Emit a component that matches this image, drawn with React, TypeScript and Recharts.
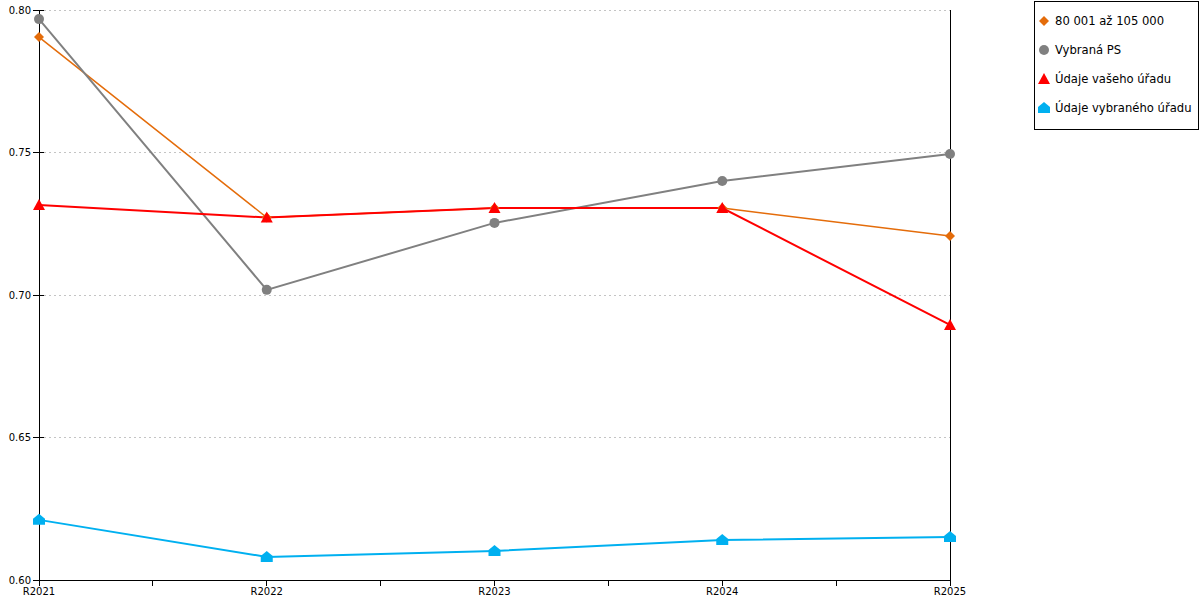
import React from 'react';
import { LineChart, Line, XAxis, YAxis, CartesianGrid } from 'recharts';

const categories = ['R2021', 'R2022', 'R2023', 'R2024', 'R2025'];
const bandValues = [0.7905, 0.7272, 0.7305, 0.7305, 0.7207];
const psValues = [0.7968, 0.7018, 0.7253, 0.74, 0.7495];
const ownValues = [0.7316, 0.7272, 0.7305, 0.7305, 0.6895];
const selValues = [0.6211, 0.6081, 0.6102, 0.614, 0.6151];
const yTicks = [0.6, 0.65, 0.7, 0.75, 0.8];
const xTicks = [0, 0.5, 1, 1.5, 2, 2.5, 3, 3.5, 4];

const seriesNames = ['80 001 až 105 000', 'Vybraná PS', 'Údaje vašeho úřadu', 'Údaje vybraného úřadu'];
const seriesColors = ['#E46C0A', '#808080', '#FF0000', '#00B0F0'];

const data = categories.map((c, i) => ({
  idx: i,
  name: c,
  band: bandValues[i],
  ps: psValues[i],
  own: ownValues[i],
  sel: selValues[i],
}));

const FONT = '"DejaVu Sans", Verdana, sans-serif';

function markerPath(kind: string, cx: number, cy: number): string {
  switch (kind) {
    case 'diamond':
      return `M${cx},${cy - 5} L${cx + 5},${cy} L${cx},${cy + 5} L${cx - 5},${cy} Z`;
    case 'triangle':
      return `M${cx},${cy - 6} L${cx + 6},${cy + 5} L${cx - 6},${cy + 5} Z`;
    case 'house':
      return `M${cx},${cy - 6} L${cx + 6},${cy - 1} L${cx + 6},${cy + 5} L${cx - 6},${cy + 5} L${cx - 6},${cy - 1} Z`;
    default:
      return '';
  }
}

const markerKinds = ['diamond', 'circle', 'triangle', 'house'];

function makeDot(kind: string, color: string) {
  return (props: any) => {
    const { cx, cy, index } = props;
    if (cx == null || cy == null) return <g key={`e-${kind}-${index}`} />;
    if (kind === 'circle') {
      return <circle key={`d-${kind}-${index}`} cx={cx} cy={cy} r={5} fill={color} />;
    }
    return <path key={`d-${kind}-${index}`} d={markerPath(kind, cx, cy)} fill={color} />;
  };
}

const YTick = (props: any) => {
  const { x, y, payload } = props;
  return (
    <g>
      <line x1={x + 2} x2={x + 13} y1={y} y2={y} stroke="#000" strokeWidth={1} shapeRendering="crispEdges" />
      <text x={x} y={y} dy="0.355em" textAnchor="end" fontSize={10} fontFamily={FONT} fill="#000">
        {Number(payload.value).toFixed(2)}
      </text>
    </g>
  );
};

const xLabel = (v: number) => (Number.isInteger(v) ? categories[v] : '');

const crispAxis = { stroke: '#000', shapeRendering: 'crispEdges' } as any;

export default function App() {
  return (
    <div style={{ position: 'absolute', left: 0, top: 0, width: 1200, height: 600, background: '#fff', fontFamily: FONT }}>
      <LineChart width={1200} height={600} data={data} margin={{ top: 10, right: 0, bottom: 0, left: 0 }}>
        <CartesianGrid vertical={false} stroke="#c4c4c4" strokeDasharray="2 3" yAxisId="left" shapeRendering="crispEdges" />
        <XAxis
          dataKey="idx"
          type="number"
          domain={[0, 4]}
          ticks={xTicks}
          tickFormatter={xLabel}
          interval={0}
          height={20}
          stroke="#000"
          tick={{ fontSize: 10, fontFamily: FONT, fill: '#000' }}
          tickLine={crispAxis}
          axisLine={crispAxis}
        />
        <YAxis
          yAxisId="left"
          domain={[0.6, 0.8]}
          ticks={yTicks}
          width={39}
          stroke="#000"
          tick={<YTick />}
          tickLine={false}
          axisLine={crispAxis}
          interval={0}
        />
        <YAxis
          yAxisId="right"
          orientation="right"
          domain={[0.6, 0.8]}
          width={250}
          stroke="#000"
          tick={false}
          tickLine={false}
          axisLine={crispAxis}
        />
        <Line yAxisId="left" type="linear" dataKey="band" stroke={seriesColors[0]} strokeWidth={1.5} dot={makeDot('diamond', seriesColors[0])} activeDot={false} isAnimationActive={false} />
        <Line yAxisId="left" type="linear" dataKey="ps" stroke={seriesColors[1]} strokeWidth={2} dot={makeDot('circle', seriesColors[1])} activeDot={false} isAnimationActive={false} />
        <Line yAxisId="left" type="linear" dataKey="own" stroke={seriesColors[2]} strokeWidth={2} dot={makeDot('triangle', seriesColors[2])} activeDot={false} isAnimationActive={false} />
        <Line yAxisId="left" type="linear" dataKey="sel" stroke={seriesColors[3]} strokeWidth={2} dot={makeDot('house', seriesColors[3])} activeDot={false} isAnimationActive={false} />
      </LineChart>
      <div
        style={{
          position: 'absolute',
          left: 1034,
          top: 1,
          width: 163,
          height: 123,
          border: '1px solid #000',
          background: '#fff',
          paddingTop: 4,
          boxSizing: 'content-box',
        }}
      >
        {seriesNames.map((n, i) => (
          <div key={n} style={{ display: 'flex', alignItems: 'center', height: 29, fontSize: 11.6, color: '#000', whiteSpace: 'nowrap' }}>
            <svg width={20} height={14} style={{ flex: 'none' }}>
              {markerKinds[i] === 'circle' ? (
                <circle cx={9} cy={7} r={5} fill={seriesColors[i]} />
              ) : (
                <path d={markerPath(markerKinds[i], 9, 7)} fill={seriesColors[i]} />
              )}
            </svg>
            <span>{n}</span>
          </div>
        ))}
      </div>
    </div>
  );
}
